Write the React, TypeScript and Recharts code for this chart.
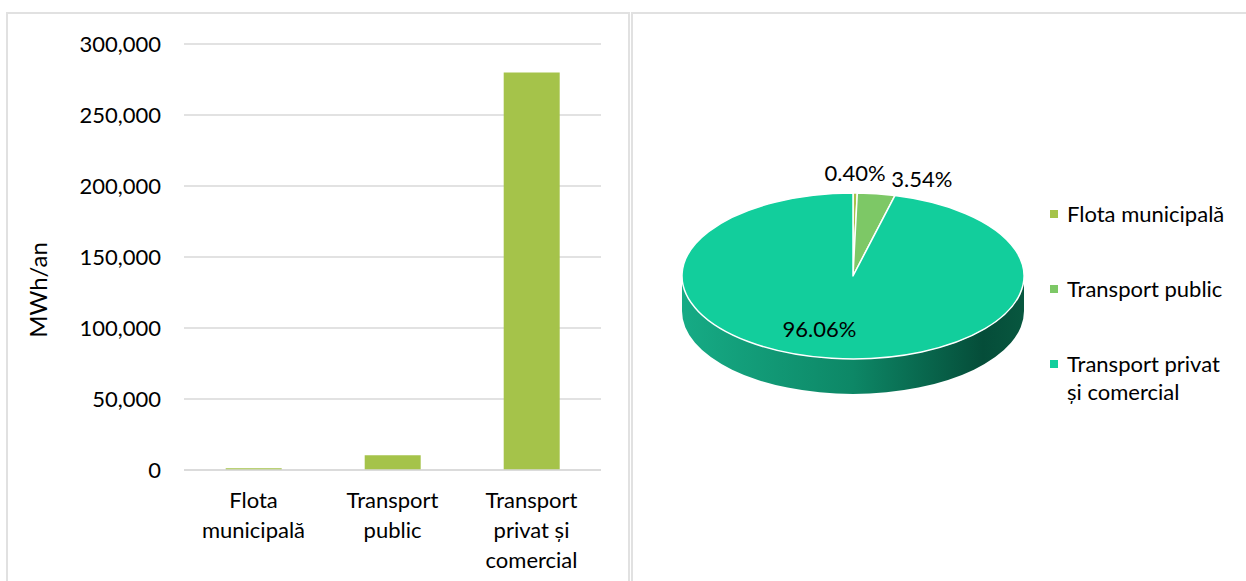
import React from "react";
import { BarChart, Bar, XAxis, YAxis, CartesianGrid, PieChart, Pie, Cell, Legend } from "recharts";

// energy use of transport, MWh/an
const categories = ["Flota municipală", "Transport public", "Transport privat și comercial"];
const consumption = [1166, 10318, 280000];
const yTicks = [0, 50000, 100000, 150000, 200000, 250000, 300000];
// wrapped labels as they appear under the bars and in the pie legend
const tickLines = [["Flota", "municipală"], ["Transport", "public"], ["Transport", "privat și", "comercial"]];
const legendLines = [["Flota municipală"], ["Transport public"], ["Transport privat", "și comercial"]];

const BAR_COLOR = "#A5C34A";
const SLICE_COLORS = ["#A5C34A", "#7DC866", "#12CE9C"];
const GRID = "#d9d9d9";
const FONT = "Lato, 'Open Sans', sans-serif";
const FS = 22;

const TILT = 0.485; // vertical squash of the 3d pie
const DEPTH = 35;

const barData = categories.map((name, i) => ({ name, value: consumption[i] }));
const pieData = categories.map((name, i) => ({ name, value: consumption[i] }));

function ellipsePt(cx: number, cy: number, rx: number, ry: number, deg: number) {
  const r = (deg * Math.PI) / 180;
  return [cx + rx * Math.cos(r), cy - ry * Math.sin(r)];
}

function CategoryTick(props: any) {
  const { x, y, payload } = props;
  const idx = categories.indexOf(payload.value);
  const lines = idx >= 0 ? tickLines[idx] : [payload.value];
  return (
    <text x={x} y={y + 38} textAnchor="middle" fill="#000" fontSize={FS} fontFamily={FONT}>
      {lines.map((l, i) => (
        <tspan key={i} x={x} dy={i === 0 ? 0 : 30}>{l}</tspan>
      ))}
    </text>
  );
}

function AxisTitle(props: any) {
  const vb = props.viewBox;
  const x = vb.x + 37;
  const y = vb.y + vb.height / 2 + 33;
  return (
    <text x={x} y={y} transform={`rotate(-90 ${x} ${y})`} textAnchor="middle" dominantBaseline="central"
      fill="#000" fontSize={24} fontFamily={FONT}>
      MWh/an
    </text>
  );
}

// elliptical sector with a front wall, faking excel's 3d pie
function TiltedSector(props: any) {
  const { cx, cy, outerRadius, startAngle, endAngle, fill, index } = props;
  const rx = outerRadius;
  const ry = outerRadius * TILT;
  const a0 = Math.max(startAngle, endAngle);
  const a1 = Math.min(startAngle, endAngle);
  const [sx, sy] = ellipsePt(cx, cy, rx, ry, a0);
  const [ex, ey] = ellipsePt(cx, cy, rx, ry, a1);
  const large = a0 - a1 > 180 ? 1 : 0;
  const top = `M${cx},${cy} L${sx},${sy} A${rx},${ry} 0 ${large} 1 ${ex},${ey} Z`;

  const walls: string[] = [];
  for (const off of [-360, 0, 360]) {
    const lo = Math.max(a1, -180 + off);
    const hi = Math.min(a0, off);
    if (hi - lo > 0.01) {
      const [hx, hy] = ellipsePt(cx, cy, rx, ry, hi);
      const [lx, ly] = ellipsePt(cx, cy, rx, ry, lo);
      walls.push(
        `M${hx},${hy} A${rx},${ry} 0 0 1 ${lx},${ly} L${lx},${ly + DEPTH} A${rx},${ry} 0 0 0 ${hx},${hy + DEPTH} Z`
      );
    }
  }
  const gid = `wall-${index}`;
  return (
    <g>
      <defs>
        <linearGradient id={gid} gradientUnits="userSpaceOnUse" x1={cx - rx} y1={0} x2={cx + rx} y2={0}>
          <stop offset="0%" stopColor="#16ab85" />
          <stop offset="50%" stopColor="#0d8766" />
          <stop offset="88%" stopColor="#054d39" />
          <stop offset="100%" stopColor="#08573f" />
        </linearGradient>
      </defs>
      {walls.map((d, i) => (
        <path key={i} d={d} fill={`url(#${gid})`} stroke="none" />
      ))}
      <path d={top} fill={fill} stroke="#fff" strokeWidth={1.5} strokeLinejoin="round" />
    </g>
  );
}

function renderPieLabel(props: any) {
  const { cx, cy, midAngle, outerRadius, percent } = props;
  const text = `${(percent * 100).toFixed(2)}%`;
  const rx = outerRadius;
  const ry = outerRadius * TILT;
  if (percent >= 0.5) {
    const [x, y] = ellipsePt(cx, cy, rx * 0.64, ry * 0.64, midAngle);
    return (
      <text x={x - 20} y={y} textAnchor="middle" dominantBaseline="central" fill="#000" fontSize={FS} fontFamily={FONT}>
        {text}
      </text>
    );
  }
  const [px, py] = ellipsePt(cx, cy, rx, ry, midAngle);
  const tiny = percent < 0.01;
  return (
    <text x={tiny ? px : px + 15} y={tiny ? py - 21 : py - 15} textAnchor={tiny ? "middle" : "start"}
      dominantBaseline="central" fill="#000" fontSize={FS} fontFamily={FONT}>
      {text}
    </text>
  );
}

function renderLegend(props: any) {
  // keep the data order, the legend would otherwise sort by name
  const items = [...(props.payload || [])].sort(
    (a: any, b: any) => categories.indexOf(a.value) - categories.indexOf(b.value)
  );
  return (
    <div style={{ fontFamily: FONT, fontSize: FS, color: "#000" }}>
      {items.map((entry: any) => {
        const idx = categories.indexOf(entry.value);
        return (
          <div key={entry.value} style={{ height: 75, position: "relative" }}>
            <span style={{ position: "absolute", left: 3, top: 10, width: 8, height: 8, background: SLICE_COLORS[idx] || entry.color }} />
            <div style={{ marginLeft: 20, lineHeight: "28px", whiteSpace: "nowrap" }}>
              {(legendLines[idx] || [entry.value]).map((l, j) => (
                <div key={j}>{l}</div>
              ))}
            </div>
          </div>
        );
      })}
    </div>
  );
}

export default function App() {
  return (
    <div style={{ position: "absolute", left: 0, top: 0, width: 1246, height: 581, background: "#fff", overflow: "hidden" }}>
      <div style={{ position: "absolute", left: 6, top: 12, width: 624, height: 620, border: "2px solid #e1e1e1", boxSizing: "border-box" }} />
      <div style={{ position: "absolute", left: 631, top: 12, width: 700, height: 620, border: "2px solid #e1e1e1", boxSizing: "border-box" }} />

      <div style={{ position: "absolute", left: 0, top: 0 }}>
        <BarChart width={629} height={581} data={barData} margin={{ top: 44, right: 28, bottom: 0, left: 0 }} barCategoryGap="30%">
          <CartesianGrid vertical={false} stroke={GRID} strokeWidth={1.5} />
          <XAxis dataKey="name" height={111} interval={0} tickLine={false} tickSize={0} tickMargin={0}
            axisLine={{ stroke: GRID, strokeWidth: 1.5 }} tick={<CategoryTick />} />
          <YAxis width={184} domain={[0, 300000]} ticks={yTicks} axisLine={false} tickLine={false} tickSize={0} tickMargin={23}
            tick={{ fill: "#000", fontSize: FS, fontFamily: FONT }}
            tickFormatter={(v: number) => v.toLocaleString("en-US")}
            label={AxisTitle} />
          <Bar dataKey="value" fill={BAR_COLOR} isAnimationActive={false} />
        </BarChart>
      </div>

      <div style={{ position: "absolute", left: 632, top: 13 }}>
        <PieChart width={614} height={568} margin={{ top: 0, right: 0, bottom: 0, left: 0 }}>
          <Pie data={pieData} dataKey="value" nameKey="name" cx={221} cy={263} outerRadius={171}
            startAngle={90} endAngle={-270} stroke="#fff" isAnimationActive={false}
            labelLine={false} label={renderPieLabel}
            shape={TiltedSector} inactiveShape={TiltedSector} activeShape={TiltedSector}>
            {pieData.map((d, i) => (
              <Cell key={d.name} fill={SLICE_COLORS[i]} />
            ))}
          </Pie>
          <Legend content={renderLegend} wrapperStyle={{ left: 415, top: 187, width: 200, bottom: "auto" }} />
        </PieChart>
      </div>
    </div>
  );
}
